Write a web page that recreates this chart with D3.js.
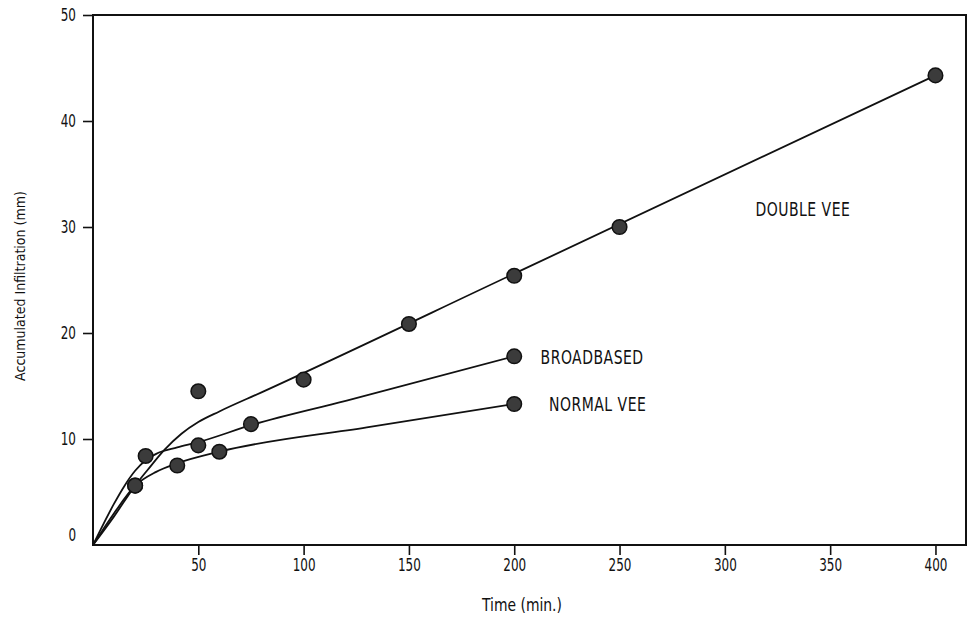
<!DOCTYPE html>
<html>
<head>
<meta charset="utf-8">
<script src="https://cdn.jsdelivr.net/npm/d3@7"></script>
<style>
  body { margin: 0; background: #fff; }
  svg text { font-family: "Liberation Sans Narrow", "DejaVu Sans Condensed", sans-serif; fill: #111; }
</style>
</head>
<body>
<div class="chart"></div>
<script>
// observed points (time in min, infiltration in mm)
const doubleVeeX = [20, 50, 100, 150, 200, 250, 400];
const doubleVeeY = [5.6, 14.5, 15.6, 20.85, 25.4, 30.0, 44.3];
const broadX = [25, 50, 75, 200];
const broadY = [8.4, 9.4, 11.4, 17.8];
const normalX = [20, 40, 60, 200];
const normalY = [5.6, 7.5, 8.8, 13.3];

// hand-fitted curves
const doubleVeeFitX = [0, 10, 20, 26, 34, 42, 50, 60, 80, 200, 400];
const doubleVeeFitY = [0, 2.7, 5.6, 7.1, 9.0, 10.5, 11.6, 12.6, 14.4, 25.6, 44.3];
const broadFitX = [0, 5, 10, 15, 20, 25, 30, 40, 50, 75, 120, 200];
const broadFitY = [0, 2.0, 3.9, 5.6, 7.0, 8.0, 8.6, 9.2, 9.7, 11.3, 13.6, 17.8];
const normalFitX = [0, 10, 20, 30, 40, 60, 130, 200];
const normalFitY = [0, 3.0, 5.6, 6.9, 7.7, 8.8, 11.1, 13.3];

const xTicks = [50, 100, 150, 200, 250, 300, 350, 400];
const yTicks = [0, 10, 20, 30, 40, 50];
const seriesNames = ["DOUBLE VEE", "BROADBASED", "NORMAL VEE"];

var width = 967, height = 618;
var margin = {top: 15, right: 1, bottom: 73, left: 93};
var squeeze = 0.74; // the scan uses a narrow typeface

const svg = d3.select(".chart").append("svg")
    .attr("width", width)
    .attr("height", height);

const xScale = d3.scaleLinear()
    .domain([0, 414.5])
    .range([margin.left, width - margin.right]);

const yScale = d3.scaleLinear()
    .domain([0, 50])
    .range([height - margin.bottom, margin.top]);

const xAxis = d3.axisBottom(xScale)
    .tickValues(xTicks)
    .tickSize(10)
    .tickSizeOuter(0)
    .tickPadding(3)
    .tickFormat(d3.format("d"));

const yAxis = d3.axisLeft(yScale)
    .tickValues(yTicks)
    .tickSize(10)
    .tickSizeOuter(0)
    .tickPadding(7)
    .tickFormat(d3.format("d"));

const gx = svg.append("g")
    .attr("class", "axis x-axis")
    .attr("transform", `translate(0, ${yScale(0)})`)
    .call(xAxis);

const gy = svg.append("g")
    .attr("class", "axis y-axis")
    .attr("transform", `translate(${xScale(0)}, 0)`)
    .call(yAxis);

svg.selectAll(".axis .domain").remove();
svg.selectAll(".axis line").attr("stroke", "#111").attr("stroke-width", 1.6);
svg.selectAll(".axis text").attr("font-size", 18).attr("fill", "#111");

gx.selectAll(".tick text")
    .attr("transform", `scale(${squeeze},1)`);

gy.selectAll(".tick text").each(function() {
    const t = d3.select(this);
    const x0 = +t.attr("x");
    t.attr("x", 0).attr("transform", `translate(${x0},0) scale(${squeeze},1)`);
});

// the zero label sits a bit above the corner, with no tick
gy.selectAll(".tick").filter(d => d === 0).select("line").remove();
gy.selectAll(".tick").filter(d => d === 0).select("text").attr("dy", "-0.25em");

// frame
svg.append("rect")
    .attr("x", xScale(0))
    .attr("y", yScale(50))
    .attr("width", xScale(414.5) - xScale(0))
    .attr("height", yScale(0) - yScale(50))
    .attr("fill", "none")
    .attr("stroke", "#111")
    .attr("stroke-width", 2);

// axis titles
svg.append("text")
    .attr("transform", "translate(522, 605) scale(0.86,1)")
    .attr("dy", "0.35em")
    .attr("text-anchor", "middle")
    .attr("font-size", 18)
    .text("Time (min.)");

svg.append("text")
    .attr("transform", "translate(20, 286) rotate(-90)")
    .attr("dy", "0.35em")
    .attr("text-anchor", "middle")
    .attr("font-size", 14)
    .text("Accumulated Infiltration (mm)");

const line = d3.line()
    .x(d => xScale(d[0]))
    .y(d => yScale(d[1]))
    .curve(d3.curveMonotoneX);

const fits = [
    d3.zip(doubleVeeFitX, doubleVeeFitY),
    d3.zip(broadFitX, broadFitY),
    d3.zip(normalFitX, normalFitY)
];

svg.selectAll(".fit")
    .data(fits)
    .join("path")
    .attr("class", "fit")
    .attr("fill", "none")
    .attr("stroke", "#111")
    .attr("stroke-width", 1.8)
    .attr("d", line);

const points = [
    d3.zip(doubleVeeX, doubleVeeY),
    d3.zip(broadX, broadY),
    d3.zip(normalX, normalY)
].flat();

svg.selectAll(".pt")
    .data(points)
    .join("circle")
    .attr("class", "pt")
    .attr("cx", d => xScale(d[0]))
    .attr("cy", d => yScale(d[1]))
    .attr("r", 7.3)
    .attr("fill", "#3b3b3b")
    .attr("stroke", "#111")
    .attr("stroke-width", 1.5);

// series labels placed in data units
const labelAt = [[314.5, 31.7], [212.5, 17.75], [216.5, 13.25]];
svg.selectAll(".lbl")
    .data(seriesNames)
    .join("text")
    .attr("class", "lbl")
    .attr("transform", (d, i) =>
        `translate(${xScale(labelAt[i][0])},${yScale(labelAt[i][1])}) scale(0.82,1)`)
    .attr("dy", "0.36em")
    .attr("font-size", 19)
    .attr("letter-spacing", 0.6)
    .text(d => d);
</script>
</body>
</html>
